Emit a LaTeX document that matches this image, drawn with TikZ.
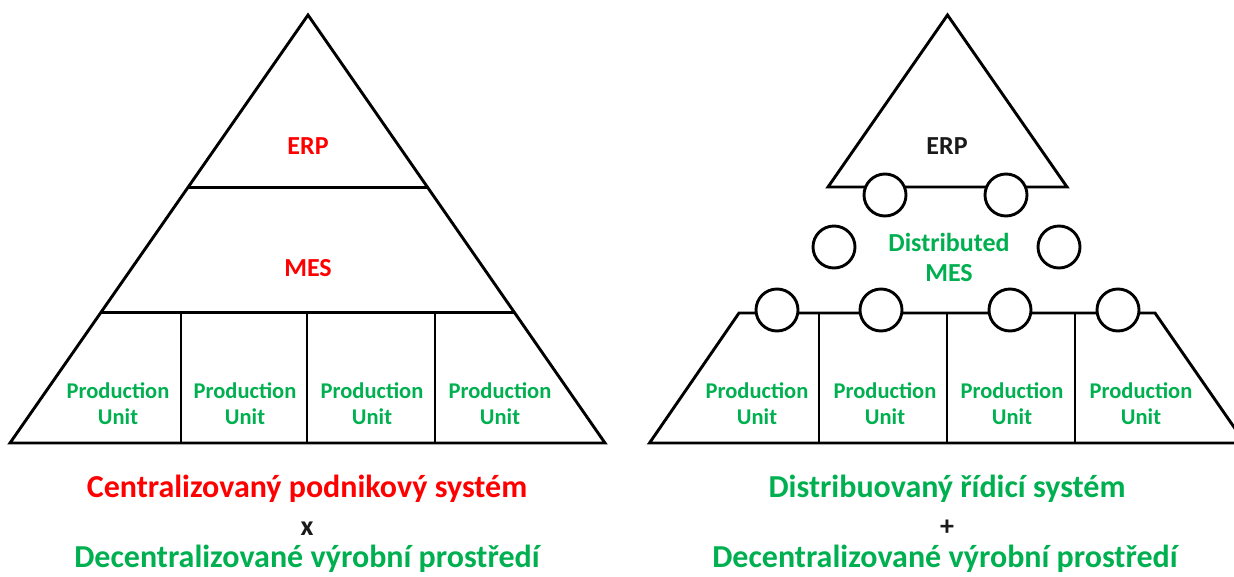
\documentclass[tikz,border=0pt]{standalone}
\usepackage{fontspec}
\setmainfont{Carlito}
\usetikzlibrary{calc}
\definecolor{ered}{HTML}{FF0000}
\definecolor{egreen}{HTML}{00B050}
\definecolor{edark}{HTML}{1A1A1A}
\begin{document}
\begin{tikzpicture}[x=1pt,y=-1pt,line width=2.9pt,line join=miter,
  lbl/.style={font=\bfseries\fontsize{26}{30}\selectfont,inner sep=0pt,align=center},
  pu/.style={font=\bfseries\fontsize{22.5}{26}\selectfont,text=egreen,inner sep=0pt,align=center},
  captext/.style={font=\bfseries\fontsize{32}{36}\selectfont,inner sep=0pt,anchor=base},
  port/.style={circle,draw,fill=white,minimum size=42pt,inner sep=0pt,line width=2.9pt}]
\useasboundingbox (0,0) rectangle (1234,576);
\clip (0,0) rectangle (1234,576);
% ---------- left pyramid ----------
\coordinate (LA) at (308,15);
\coordinate (LBL) at (10,443);
\coordinate (LBR) at (605,443);
\draw (LA) -- (LBR) -- (LBL) -- cycle;
\draw ($(LA)!0.402!(LBL)$) -- ($(LA)!0.402!(LBR)$);
\draw ($(LA)!0.696!(LBL)$) -- ($(LA)!0.696!(LBR)$);
\foreach \x in {181,307,435} \draw (\x,313) -- (\x,443);
\node[lbl,text=ered] (erpL) at (308,146) {ERP};
\node[lbl,text=ered] (mesL) at (308,268) {MES};
\node[pu] (puL1) at (118,404) {Production\\Unit};
\node[pu] (puL2) at (245,404) {Production\\Unit};
\node[pu] (puL3) at (372,404) {Production\\Unit};
\node[pu] (puL4) at (500,404) {Production\\Unit};
% ---------- right side ----------
\coordinate (RA) at (947.5,15);
\coordinate (RBL) at (828,187);
\coordinate (RBR) at (1067,187);
\draw (RA) -- (RBR) -- (RBL) -- cycle;
\coordinate (TL) at (739,313);
\coordinate (TR) at (1155,313);
\coordinate (BL) at (649.5,443);
\coordinate (BR) at (1245,443);
\draw (TL) -- (TR) -- (BR) -- (BL) -- cycle;
\foreach \x in {819,947,1075} \draw (\x,313) -- (\x,443);
\node[port] (c1) at (885,195) {};
\node[port] (c2) at (1006,195) {};
\node[port] (c3) at (834,247) {};
\node[port] (c4) at (1059,247) {};
\node[port] (c5) at (777,310) {};
\node[port] (c6) at (881,310) {};
\node[port] (c7) at (1010,310) {};
\node[port] (c8) at (1118,310) {};
\node[lbl,text=edark] (erpR) at (947,146) {ERP};
\node[lbl,text=egreen] (mesR) at (949,257) {Distributed\\MES};
\node[pu] (puR1) at (757,404) {Production\\Unit};
\node[pu] (puR2) at (885,404) {Production\\Unit};
\node[pu] (puR3) at (1012,404) {Production\\Unit};
\node[pu] (puR4) at (1141,404) {Production\\Unit};
% ---------- captions ----------
\node[captext,text=ered] (capL1) at (307,497) {Centralizovaný podnikový systém};
\node[captext,text=edark,font=\bfseries\fontsize{28}{32}\selectfont] (capL2) at (307,535) {x};
\node[captext,text=egreen] (capL3) at (307,567) {Decentralizované výrobní prostředí};
\node[captext,text=egreen] (capR1) at (947,497) {Distribuovaný řídicí systém};
\node[captext,text=edark,font=\bfseries\fontsize{28}{32}\selectfont] (capR2) at (947,535) {+};
\node[captext,text=egreen] (capR3) at (945,567) {Decentralizované výrobní prostředí};
\end{tikzpicture}
\end{document}
